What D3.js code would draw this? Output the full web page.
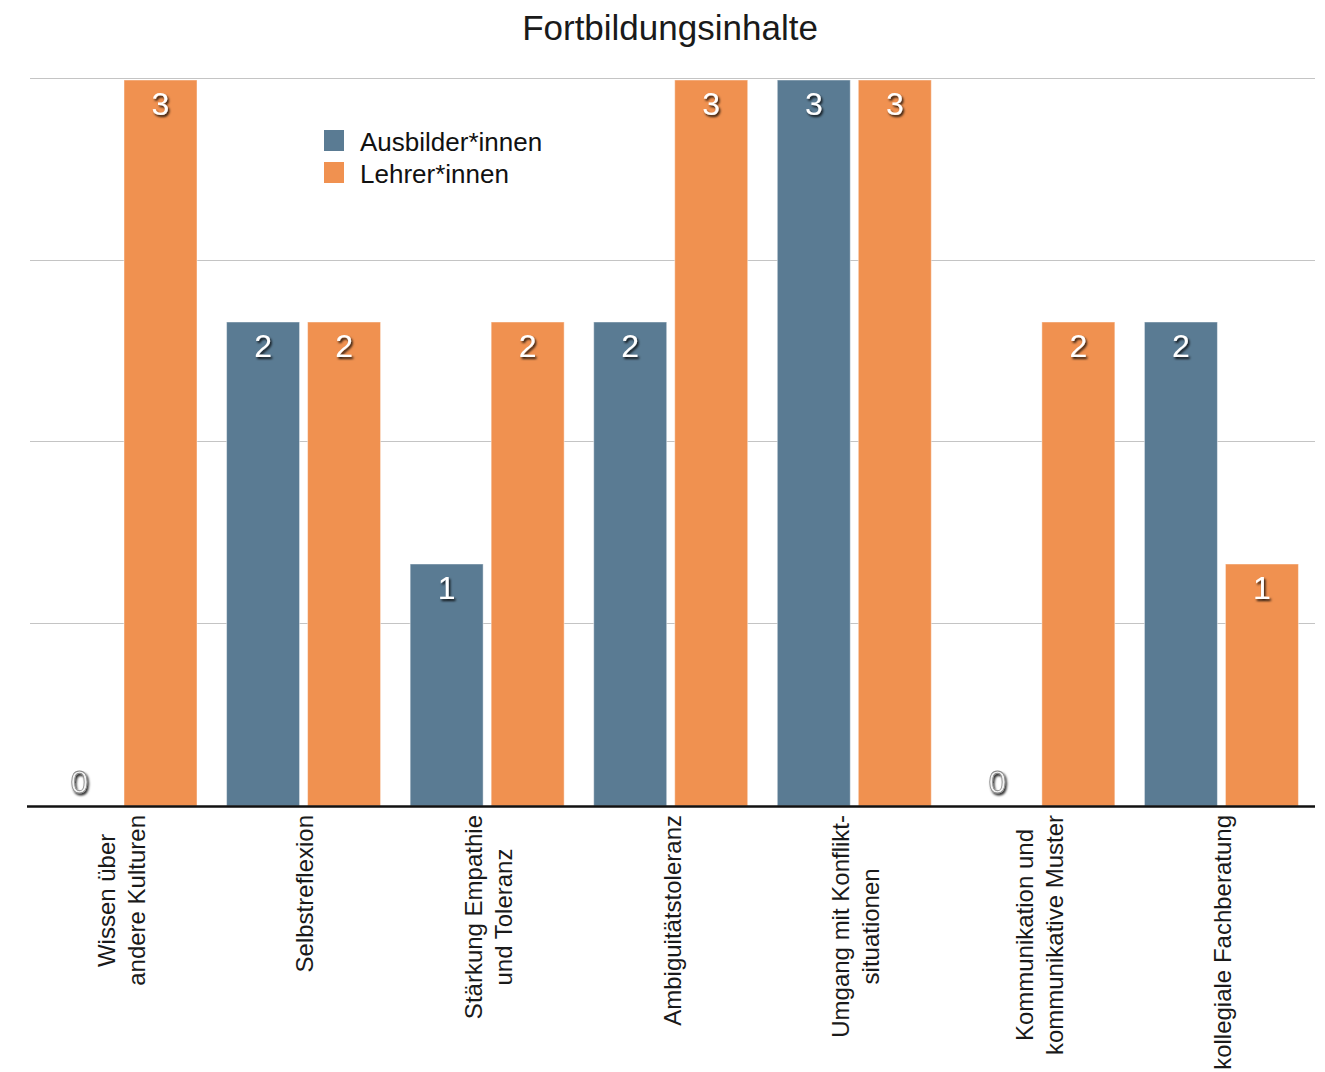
<!DOCTYPE html>
<html lang="de">
<head>
<meta charset="utf-8">
<title>Fortbildungsinhalte</title>
<script src="https://cdn.jsdelivr.net/npm/d3@7/dist/d3.min.js"></script>
<style>
  html, body { margin: 0; padding: 0; background: #fff; }
  svg { display: block; font-family: "Liberation Sans", "Helvetica Neue", Arial, sans-serif; }
</style>
</head>
<body>
<svg id="chart" width="1325" height="1072"></svg>
<script>
// Topics (each label split into its display lines)
const categories = [
  ["Wissen über", "andere Kulturen"],
  ["Selbstreflexion"],
  ["Stärkung Empathie", "und Toleranz"],
  ["Ambiguitätstoleranz"],
  ["Umgang mit Konflikt-", "situationen"],
  ["Kommunikation und", "kommunikative Muster"],
  ["kollegiale Fachberatung"]
];
const seriesNames = ["Ausbilder*innen", "Lehrer*innen"];
const ausbilderValues = [0, 2, 1, 2, 3, 0, 2];
const lehrerValues    = [3, 2, 2, 3, 3, 2, 1];
const gridTicks = [0.75, 1.5, 2.25, 3];
const colors = ["#5a7b93", "#f09150"];

const svg = d3.select("#chart");
const plotLeft = 30, plotRight = 1315, plotTop = 80, plotBottom = 806;

const catKeys = categories.map((c, i) => i);
const x0 = d3.scaleBand().domain(catKeys).range([plotLeft, plotRight]).paddingInner(0).paddingOuter(0);
const x1 = d3.scaleBand().domain(seriesNames).range([13, 167]).paddingInner(0.099);
const y = d3.scaleLinear().domain([0, 3]).range([plotBottom, plotTop]);

const defs = svg.append("defs");
const sh = defs.append("filter").attr("id", "lblShadow")
  .attr("x", "-50%").attr("y", "-50%").attr("width", "200%").attr("height", "200%");
sh.append("feDropShadow").attr("dx", 1.5).attr("dy", 2).attr("stdDeviation", 1.2)
  .attr("flood-color", "#000").attr("flood-opacity", 0.85);

// Title
svg.append("text")
  .attr("x", 670).attr("y", 40)
  .attr("text-anchor", "middle")
  .attr("font-size", 35)
  .attr("fill", "#1a1a1a")
  .text("Fortbildungsinhalte");

// Horizontal gridlines
svg.append("g").selectAll("line")
  .data(gridTicks)
  .join("line")
  .attr("x1", plotLeft).attr("x2", plotRight)
  .attr("y1", d => Math.round(y(d)) - 1.5).attr("y2", d => Math.round(y(d)) - 1.5)
  .attr("stroke", "#c4c4c4").attr("stroke-width", 1);

// Bars
const rows = catKeys.map(i => ({ i, values: [ausbilderValues[i], lehrerValues[i]] }));
const groups = svg.append("g").selectAll("g")
  .data(rows)
  .join("g")
  .attr("transform", d => `translate(${x0(d.i)},0)`);

groups.selectAll("rect")
  .data(d => d.values.map((v, k) => ({ key: seriesNames[k], k, v })))
  .join("rect")
  .attr("x", d => x1(d.key))
  .attr("width", x1.bandwidth())
  .attr("y", d => y(d.v))
  .attr("height", d => y(0) - y(d.v))
  .attr("fill", d => colors[d.k])
  .attr("stroke", "rgba(255,255,255,0.45)")
  .attr("stroke-width", 1);

// Value labels
groups.selectAll("text.val")
  .data(d => d.values.map((v, k) => ({ key: seriesNames[k], k, v })))
  .join("text")
  .attr("class", "val")
  .attr("x", d => x1(d.key) + x1.bandwidth() / 2)
  .attr("y", d => d.v === 0 ? y(0) - 13 : y(d.v) + 35)
  .attr("text-anchor", "middle")
  .attr("font-size", 32)
  .attr("fill", d => d.v === 0 ? "#f2f2f2" : "#fff")
  .attr("stroke", d => d.v === 0 ? "#8a8a8a" : "none")
  .attr("stroke-width", d => d.v === 0 ? 0.8 : 0)
  .attr("filter", "url(#lblShadow)")
  .text(d => d.v);

// Baseline
svg.append("line")
  .attr("x1", plotLeft - 3).attr("x2", plotRight)
  .attr("y1", y(0) + 0.5).attr("y2", y(0) + 0.5)
  .attr("stroke", "#111").attr("stroke-width", 2.5);

// Category labels, rotated, longest line starting just below the baseline
const labelTop = 815, lineGap = 30, labelSize = 24;
categories.forEach((lines, i) => {
  const cx = x0(i) + x0.bandwidth() / 2;
  const g = svg.append("g");
  const texts = lines.map((ln, j) => {
    const off = (j - (lines.length - 1) / 2) * lineGap;
    return g.append("text")
      .attr("font-size", labelSize)
      .attr("fill", "#1a1a1a")
      .attr("text-anchor", "middle")
      .attr("data-off", off)
      .text(ln);
  });
  const maxLen = d3.max(texts, t => t.node().getComputedTextLength());
  const cy = labelTop + maxLen / 2;
  texts.forEach(t => {
    const off = +t.attr("data-off");
    // baseline sits right of the glyph column after rotation
    t.attr("transform", `translate(${cx + off + 8},${cy}) rotate(-90)`);
  });
});

// Legend
const legend = svg.append("g").attr("transform", "translate(324,130)");
seriesNames.forEach((name, k) => {
  legend.append("rect")
    .attr("x", 0).attr("y", k * 32)
    .attr("width", 20).attr("height", 21)
    .attr("fill", colors[k]);
  legend.append("text")
    .attr("x", 36).attr("y", k * 32 + 21)
    .attr("font-size", 26)
    .attr("fill", "#111")
    .text(name);
});
</script>
</body>
</html>
